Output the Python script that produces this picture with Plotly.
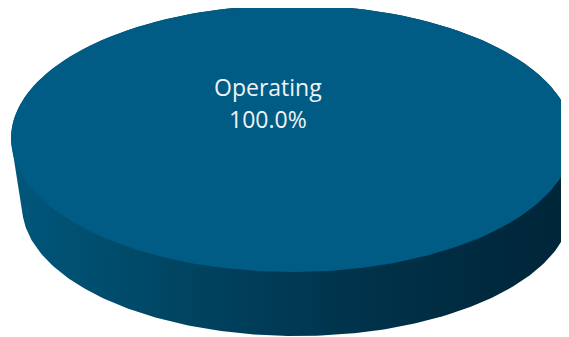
import numpy as np
import plotly.graph_objects as go

# ---- data ----
labels = ["Operating"]
values = [100.0]

# ---- styling / geometry (pixels of the 569x337 window) ----
W, H = 569, 337
PAGE_OFFSET = 8  # default body margin of the page
TOP = dict(cx=292.0, cy=138.5, rx=281.0, ry=133.5)
BOTTOM = dict(cx=297.0, cy=206.0, rx=275.0, ry=130.0)
TOP_COLORS = ["#005c84"]
SIDE_SCALE = [[0.0, "#00577c"], [0.3, "#004562"], [0.55, "#003650"],
              [0.8, "#002b40"], [1.0, "#002538"]]
LABEL_POS = (268.0, 87.0, 119.0)
FONT = dict(family="Open Sans", size=23, color="#eef3f6")


def wedge(e, a0, a1, full):
    t = np.linspace(a0, a1, 361)
    x = e["cx"] + e["rx"] * np.cos(t)
    y = e["cy"] + e["ry"] * np.sin(t)
    if not full:
        x = np.concatenate([[e["cx"]], x, [e["cx"]]])
        y = np.concatenate([[e["cy"]], y, [e["cy"]]])
    return x, y


def convex_hull(px, py):
    pts = sorted(set(zip(np.round(px, 3).tolist(), np.round(py, 3).tolist())))

    def cross(o, a, b):
        return (a[0] - o[0]) * (b[1] - o[1]) - (a[1] - o[1]) * (b[0] - o[0])

    lower, upper = [], []
    for p in pts:
        while len(lower) >= 2 and cross(lower[-2], lower[-1], p) <= 0:
            lower.pop()
        lower.append(p)
    for p in reversed(pts):
        while len(upper) >= 2 and cross(upper[-2], upper[-1], p) <= 0:
            upper.pop()
        upper.append(p)
    h = lower[:-1] + upper[:-1]
    h.append(h[0])
    return [p[0] for p in h], [p[1] for p in h]


total = float(sum(values))
fig = go.Figure()
start = -np.pi / 2
for i, (lab, val) in enumerate(zip(labels, values)):
    frac = val / total
    end = start + frac * 2 * np.pi
    full = frac >= 0.9999
    tx, ty = wedge(TOP, start, end, full)
    bx, by = wedge(BOTTOM, start, end, full)
    sx, sy = convex_hull(np.concatenate([tx, bx]), np.concatenate([ty, by]))
    fig.add_trace(go.Scatter(
        x=sx, y=sy, mode="lines", fill="toself",
        fillgradient=dict(type="horizontal", colorscale=SIDE_SCALE),
        line=dict(width=0, color="rgba(0,0,0,0)"),
        hoverinfo="skip", showlegend=False))
    fig.add_trace(go.Scatter(
        x=tx, y=ty, mode="lines", fill="toself",
        fillcolor=TOP_COLORS[i % len(TOP_COLORS)],
        line=dict(width=0, color="rgba(0,0,0,0)"),
        name=lab, hoverinfo="skip", showlegend=False))
    lx, ly1, ly2 = LABEL_POS
    fig.add_annotation(x=lx, y=ly1, text=lab, showarrow=False, font=FONT,
                       xanchor="center", yanchor="middle")
    fig.add_annotation(x=lx, y=ly2, text=f"{frac * 100:.1f}%", showarrow=False,
                       font=FONT, xanchor="center", yanchor="middle")
    start = end

fig.update_layout(
    width=W, height=H, autosize=False,
    margin=dict(l=0, r=0, t=0, b=0),
    paper_bgcolor="white", plot_bgcolor="white",
    xaxis=dict(range=[PAGE_OFFSET, W + PAGE_OFFSET], visible=False, fixedrange=True),
    yaxis=dict(range=[H + PAGE_OFFSET, PAGE_OFFSET], visible=False, fixedrange=True),
)
fig.write_html("out.html")
